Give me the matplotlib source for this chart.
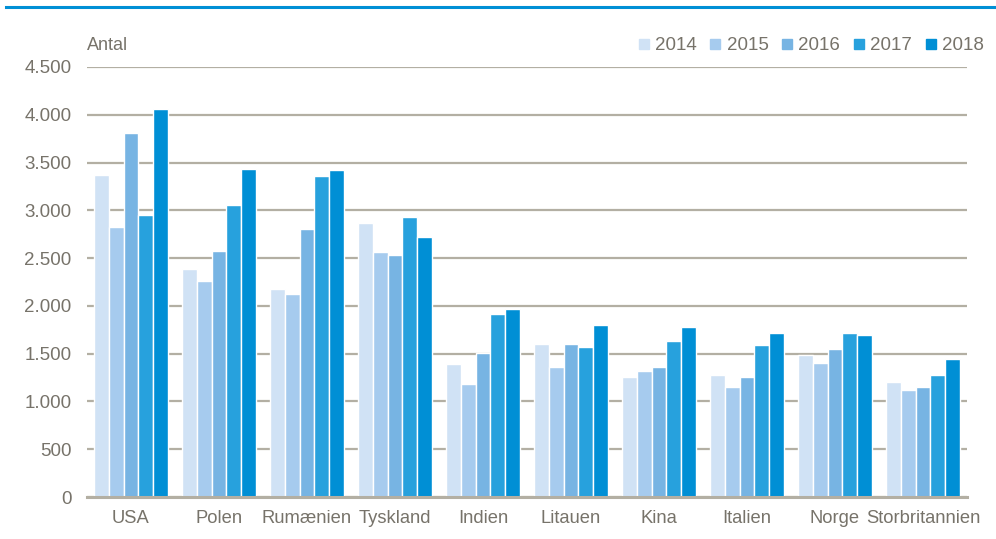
import numpy as np
import matplotlib.pyplot as plt
from matplotlib.lines import Line2D

plt.rcParams['font.family'] = ['Liberation Sans', 'DejaVu Sans']

# data
countries = ['USA', 'Polen', 'Rumænien', 'Tyskland', 'Indien', 'Litauen',
             'Kina', 'Italien', 'Norge', 'Storbritannien']
years = ['2014', '2015', '2016', '2017', '2018']
v2014 = [3370, 2390, 2180, 2870, 1390, 1600, 1260, 1280, 1490, 1200]
v2015 = [2825, 2260, 2120, 2560, 1180, 1365, 1320, 1155, 1405, 1115]
v2016 = [3810, 2575, 2800, 2530, 1510, 1600, 1365, 1260, 1550, 1155]
v2017 = [2950, 3055, 3360, 2930, 1910, 1575, 1635, 1595, 1720, 1280]
v2018 = [4060, 3430, 3420, 2720, 1970, 1805, 1780, 1720, 1700, 1445]
series = [v2014, v2015, v2016, v2017, v2018]
colors = ['#D0E2F5', '#A6CBEE', '#77B4E3', '#27A1DD', '#008FD5']

text_col = '#77736A'
grid_col = '#B3AFA3'

fig = plt.figure(figsize=(9.96, 5.39), dpi=100)
ax = fig.add_axes([0.0873, 0.0779, 0.8835, 0.7978])

x = np.arange(len(countries))
w = 0.168
for i, (vals, c) in enumerate(zip(series, colors)):
    ax.bar(x + (i - 2) * w, vals, width=w, color=c, edgecolor='white',
           linewidth=1.0, zorder=3)

ax.set_xlim(-0.5, len(countries) - 0.5)
ax.set_ylim(0, 4500)
ax.set_yticks(range(0, 4501, 500))
ax.set_yticklabels([f'{v:,}'.replace(',', '.') for v in range(0, 4501, 500)])
ax.set_xticks(x)
ax.set_xticklabels(countries)
ax.grid(axis='y', color=grid_col, linewidth=1.6, zorder=0)
for s in ['top', 'right', 'left']:
    ax.spines[s].set_visible(False)
ax.spines['bottom'].set_color(grid_col)
ax.spines['bottom'].set_linewidth(2.2)
ax.spines['bottom'].set_zorder(4)
ax.tick_params(axis='both', length=0, labelsize=13.5, labelcolor=text_col)
ax.tick_params(axis='x', labelsize=13.2, pad=9)
ax.tick_params(axis='y', pad=11)

fig.text(0.0873, 0.915, 'Antal', fontsize=13, color=text_col, ha='left', va='center')

# top rule
fig.add_artist(Line2D([0.006, 1.0], [0.987, 0.987], color='#008FD5', linewidth=2.2))

handles = [Line2D([], [], marker='s', linestyle='none', markersize=6.5,
                  markerfacecolor=c, markeredgecolor=c) for c in colors]
leg = ax.legend(handles, years, ncol=5, loc='lower right',
                bbox_to_anchor=(1.028, 1.012), frameon=False, fontsize=13.5,
                handlelength=0.6, handletextpad=0.3, columnspacing=0.7,
                borderaxespad=0)
for t in leg.get_texts():
    t.set_color(text_col)

fig.savefig('out.png', dpi=100)
